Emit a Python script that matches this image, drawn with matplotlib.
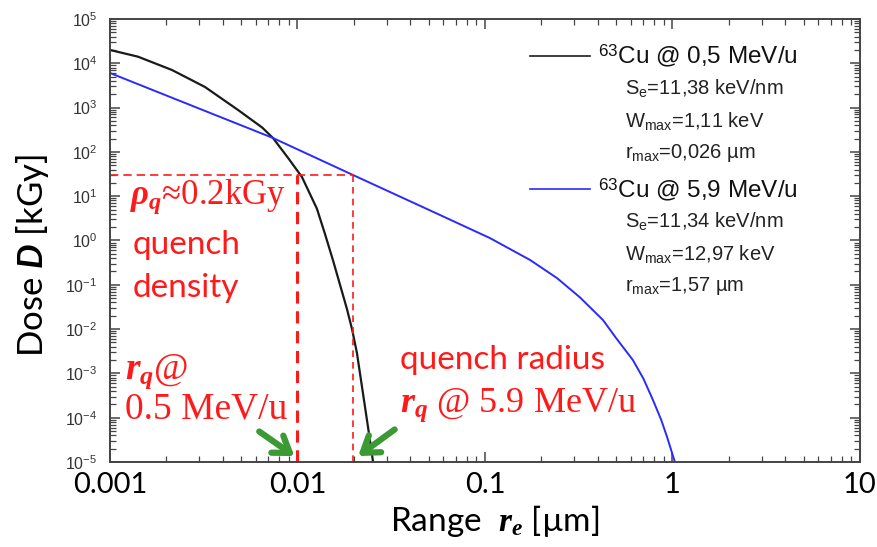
import numpy as np
import matplotlib
matplotlib.use("Agg")
import matplotlib.pyplot as plt
from matplotlib import ticker
from matplotlib.lines import Line2D

plt.rcParams['mathtext.fontset'] = 'custom'
plt.rcParams['mathtext.it'] = 'Liberation Serif:italic:bold'
plt.rcParams['mathtext.bf'] = 'Lato:italic:bold'
plt.rcParams['mathtext.rm'] = 'Liberation Sans'

# radial dose profiles, Cu-63 ions
r_low = [0.001, 0.00141, 0.00214, 0.00321, 0.00482, 0.00648, 0.0074, 0.00889,
         0.01057, 0.0127, 0.01402, 0.01545, 0.01837, 0.01954, 0.02075, 0.02234,
         0.02377, 0.0253]
dose_low = [2.0e4, 1.41e4, 7060, 2920, 883, 355, 206, 74,
            27, 5.2, 1.4, 0.363, 0.0282, 0.010, 2.9e-3, 3.6e-4,
            6.2e-5, 1.0e-5]

r_high = [0.001, 0.003, 0.0074, 0.0198, 0.0575, 0.106, 0.174, 0.242,
          0.321, 0.426, 0.5, 0.615, 0.7, 0.787, 0.87, 0.935, 1.03]
dose_high = [6040, 944, 206, 30, 3.77, 1.14, 0.363, 0.142,
             0.052, 0.016, 6.3e-3, 2.0e-3, 7.6e-4, 2.5e-4, 9.0e-5, 3.7e-5, 1.0e-5]

# quench threshold and radii
rho_q = 30
rq_low = 0.01
rq_high = 0.0198

red = '#ff1a1a'
green = '#3c9a35'

fig = plt.figure(figsize=(8.77, 5.47), dpi=100)
ax = fig.add_axes([0.1254, 0.1554, 0.8552, 0.8099])

ax.plot(r_low, dose_low, color='#1a1a1a', lw=1.6)
ax.plot(r_high, dose_high, color='#2a2aff', lw=1.4)

ax.set_xscale('log')
ax.set_yscale('log')
ax.set_xlim(1e-3, 10)
ax.set_ylim(1e-5, 1e5)

# quench markers
ax.plot([1e-3, rq_high], [rho_q, rho_q], color=red, lw=1.2, ls=(0, (5, 3)))
ax.plot([rq_low, rq_low], [1e-5, rho_q], color=red, lw=2.2, ls=(0, (4, 2.5)))
ax.plot([rq_high, rq_high], [1e-5, rho_q], color=red, lw=1.2, ls=(0, (4, 3)))

# axes styling
for s in ax.spines.values():
    s.set_color('#444444')
    s.set_linewidth(1.4)
ax.xaxis.set_major_locator(ticker.LogLocator(base=10, numticks=100))
ax.xaxis.set_minor_locator(ticker.LogLocator(base=10, subs=np.arange(2, 10), numticks=100))
ax.yaxis.set_major_locator(ticker.LogLocator(base=10, numticks=100))
ax.yaxis.set_minor_locator(ticker.LogLocator(base=10, subs=np.arange(2, 10), numticks=100))
ax.xaxis.set_major_formatter(ticker.FuncFormatter(lambda v, p: ('%g' % v)))
ax.yaxis.set_major_formatter(ticker.FuncFormatter(
    lambda v, p: r'$\mathrm{10^{%d}}$' % int(round(np.log10(v)))))
ax.xaxis.set_minor_formatter(ticker.NullFormatter())
ax.yaxis.set_minor_formatter(ticker.NullFormatter())
ax.tick_params(which='both', direction='in', top=True, right=True, color='#444444')
ax.tick_params(which='major', length=7, width=1.1)
ax.tick_params(which='minor', length=4, width=0.9)
ax.tick_params(axis='x', which='major', labelsize=21, pad=7)
ax.tick_params(axis='y', which='major', labelsize=11.5, labelcolor='#333333', pad=9)
for lbl in ax.get_xticklabels():
    lbl.set_fontfamily('Lato')

ax.set_xlabel(r'Range  $r_e$ [µm]', fontsize=24, family='Lato')
ax.set_ylabel(r'Dose $\mathbf{D}$ [kGy]', fontsize=25, family='Lato')
ax.xaxis.set_label_coords(0.513, -0.093)
ax.yaxis.set_label_coords(-0.078, 0.467)

# legend block
lx0, lx1 = 0.56, 0.64
for y, col, head, lines in [
        (0.9165, '#1a1a1a', r'$^{\mathrm{63}}$Cu @ 0,5 MeV/u',
         [r'S$_\mathrm{e}$=11,38 keV/nm', r'W$_\mathrm{max}$=1,11 keV', r'r$_\mathrm{max}$=0,026 µm']),
        (0.616, '#2a2aff', r'$^{\mathrm{63}}$Cu @ 5,9 MeV/u',
         [r'S$_\mathrm{e}$=11,34 keV/nm', r'W$_\mathrm{max}$=12,97 keV', r'r$_\mathrm{max}$=1,57 µm'])]:
    ax.add_line(Line2D([lx0, lx1], [y, y], color=col, lw=1.2, transform=ax.transAxes))
    ax.text(0.651, y, head, transform=ax.transAxes, fontsize=17.5, family='Liberation Sans',
            va='center', ha='left', color='#111111')
    for i, t in enumerate(lines):
        ax.text(0.687, y - 0.073 * (i + 1), t, transform=ax.transAxes, fontsize=14.5,
                family='Liberation Sans', va='center', ha='left', color='#222222')

# annotations
ax.text(0.027, 0.598, r'$\rho_q$≈0.2kGy', transform=ax.transAxes, fontsize=25,
        family='Liberation Serif', color=red, va='center', ha='left')
ax.text(0.030, 0.490, 'quench', transform=ax.transAxes, fontsize=24,
        family='Lato', color=red, va='center', ha='left')
ax.text(0.030, 0.393, 'density', transform=ax.transAxes, fontsize=24,
        family='Lato', color=red, va='center', ha='left')
ax.text(0.020, 0.205, r'$r_q$@', transform=ax.transAxes, fontsize=27,
        family='Liberation Serif', color=red, va='center', ha='left')
ax.text(0.020, 0.118, '0.5 MeV/u', transform=ax.transAxes, fontsize=27,
        family='Liberation Serif', color=red, va='center', ha='left')
ax.text(0.387, 0.230, 'quench radius', transform=ax.transAxes, fontsize=24,
        family='Lato', color=red, va='center', ha='left')
ax.text(0.387, 0.128, r'$r_q$ @ 5.9 MeV/u', transform=ax.transAxes, fontsize=26,
        family='Liberation Serif', color=red, va='center', ha='left')

arrow = dict(arrowstyle='->,head_length=1.1,head_width=0.75', color=green, lw=4.5)
ax.annotate('', xy=(0.0099, 1.25e-5), xytext=(0.00608, 5.3e-5), arrowprops=arrow)
ax.annotate('', xy=(0.0205, 1.25e-5), xytext=(0.0339, 5.9e-5), arrowprops=arrow)

fig.savefig('out.png', dpi=100)
